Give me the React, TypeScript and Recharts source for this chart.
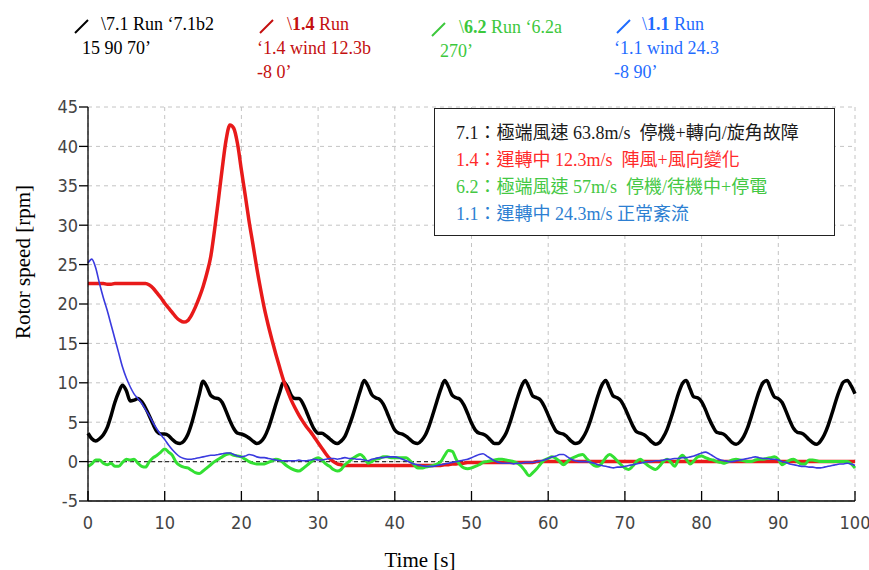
import React from 'react';
import { LineChart, Line, XAxis, YAxis, CartesianGrid, ReferenceLine } from 'recharts';

// time axis, 0 .. 100 s in 0.5 s steps
const timeSec: number[] = Array.from({ length: 201 }, (_, i) => i * 0.5);

// 7.1 (black)
const run71: number[] = [
  3.6, 2.9, 2.6, 2.9, 3.4, 4.3, 5.8, 7.5, 8.8, 9.7,
  9.0, 7.7, 7.8, 8.0, 7.6, 6.8, 5.8, 4.7, 3.8, 3.5,
  3.5, 3.3, 2.8, 2.4, 2.3, 2.6, 3.4, 4.8, 6.6, 8.5,
  10.2, 9.5, 8.4, 8.1, 8.0, 7.5, 6.4, 5.2, 4.2, 3.6,
  3.5, 3.3, 3.0, 2.6, 2.3, 2.5, 3.1, 4.2, 5.7, 7.3,
  8.8, 10.1, 9.5, 8.4, 8.0, 8.0, 7.4, 6.3, 5.1, 4.1,
  3.6, 3.6, 3.3, 2.9, 2.5, 2.3, 2.6, 3.2, 4.4, 5.8,
  7.4, 9.0, 10.3, 9.6, 8.5, 8.1, 7.9, 7.3, 6.2, 5.0,
  4.0, 3.6, 3.5, 3.2, 2.8, 2.4, 2.3, 2.7, 3.4, 4.6,
  6.1, 7.7, 9.2, 10.3, 9.5, 8.4, 8.1, 7.9, 7.2, 6.1,
  4.9, 4.0, 3.6, 3.5, 3.2, 2.7, 2.3, 2.3, 2.8, 3.6,
  4.9, 6.5, 8.1, 9.5, 10.3, 9.4, 8.3, 8.1, 7.8, 7.0,
  5.9, 4.8, 3.9, 3.6, 3.5, 3.1, 2.6, 2.3, 2.4, 3.0,
  3.9, 5.2, 6.8, 8.4, 9.7, 10.3, 9.3, 8.3, 8.1, 7.7,
  6.8, 5.7, 4.6, 3.8, 3.6, 3.4, 3.0, 2.5, 2.2, 2.4,
  3.1, 4.1, 5.5, 7.1, 8.7, 9.9, 10.3, 9.2, 8.2, 8.1,
  7.6, 6.6, 5.4, 4.4, 3.7, 3.6, 3.4, 2.9, 2.4, 2.2,
  2.5, 3.2, 4.3, 5.8, 7.4, 8.9, 10.0, 10.3, 9.2, 8.2,
  8.0, 7.5, 6.4, 5.2, 4.2, 3.7, 3.6, 3.3, 2.8, 2.4,
  2.2, 2.6, 3.4, 4.6, 6.1, 7.7, 9.1, 10.1, 10.3, 9.6,
  8.6,
];

// 1.4 (red)
const run14: number[] = [
  22.6, 22.6, 22.6, 22.6, 22.6, 22.5, 22.5, 22.6, 22.6, 22.6,
  22.6, 22.6, 22.6, 22.6, 22.6, 22.6, 22.4, 22.0, 21.4, 20.8,
  20.1, 19.5, 18.9, 18.3, 17.9, 17.7, 17.9, 18.6, 19.6, 20.8,
  22.2, 23.9, 26.0, 29.4, 33.2, 37.2, 40.8, 42.7, 42.3, 40.3,
  37.0, 33.8, 30.5, 27.6, 24.6, 21.9, 19.4, 17.3, 15.4, 13.6,
  11.9, 10.3, 9.0, 7.8, 6.8, 5.9, 5.1, 4.4, 3.8, 3.1,
  2.4, 1.7, 1.0, 0.4, 0.0, -0.3, -0.4, -0.5, -0.5, -0.5,
  -0.5, -0.5, -0.5, -0.5, -0.5, -0.5, -0.5, -0.5, -0.5, -0.5,
  -0.5, -0.5, -0.5, -0.5, -0.5, -0.5, -0.5, -0.5, -0.5, -0.5,
  -0.5, -0.5, -0.5, -0.4, -0.4, -0.3, -0.3, -0.2, -0.2, -0.1,
  -0.1, -0.1, -0.1, -0.1, -0.1, -0.1, -0.1, -0.1, -0.1, -0.1,
  -0.1, -0.1, -0.1, -0.1, -0.1, -0.1, -0.1, 0.0, 0.0, 0.0,
  0.0, 0.0, 0.0, 0.0, 0.0, 0.0, 0.0, 0.0, 0.0, 0.0,
  0.0, 0.0, 0.0, 0.0, 0.0, 0.0, 0.0, 0.0, 0.0, 0.0,
  0.0, 0.0, 0.0, 0.0, 0.0, 0.0, 0.0, 0.0, 0.0, 0.0,
  0.0, 0.0, 0.0, 0.0, 0.0, 0.0, 0.0, 0.0, 0.0, 0.0,
  0.0, 0.0, 0.0, 0.0, 0.0, 0.0, 0.0, 0.0, 0.0, 0.0,
  0.0, 0.0, 0.0, 0.0, 0.0, 0.0, 0.0, 0.0, 0.0, 0.0,
  0.0, 0.0, 0.0, 0.0, 0.0, 0.0, 0.0, 0.0, 0.0, 0.0,
  0.0, 0.0, 0.0, 0.0, 0.0, 0.0, 0.0, 0.0, 0.0, 0.0,
  0.0,
];

// 6.2 (green)
const run62: number[] = [
  -0.6, -0.3, 0.2, 0.2, -0.2, -0.4, -0.2, -0.6, -0.6, -0.1,
  0.3, 0.2, 0.3, -0.2, -0.6, -0.7, 0.0, 0.5, 0.8, 1.2,
  1.6, 1.2, 0.8, -0.1, -0.5, -0.7, -0.8, -1.1, -1.4, -1.5,
  -1.2, -0.8, -0.4, 0.0, 0.3, 0.6, 0.9, 1.0, 0.8, 0.7,
  0.6, 0.3, 0.0, -0.2, -0.3, -0.3, -0.3, -0.1, 0.1, 0.3,
  0.2, -0.2, -0.6, -0.9, -1.1, -1.2, -0.9, -0.5, -0.1, 0.3,
  0.5, 0.2, -0.3, -0.6, -1.0, -1.2, -1.0, -0.4, 0.0, 0.4,
  0.7, 0.9, 0.5, -0.2, 0.0, 0.3, 0.4, 0.6, 0.6, 0.5,
  0.5, 0.5, 0.5, 0.5, 0.1, -0.4, -0.8, -0.8, -0.7, -0.6,
  -0.5, -0.3, 0.0, 0.8, 1.4, 1.3, 0.3, -0.4, -0.8, -0.9,
  -0.8, -0.6, -0.4, -0.1, 0.0, 0.1, 0.2, 0.3, 0.3, 0.2,
  0.1, 0.0, -0.2, -0.6, -1.2, -1.8, -1.4, -0.9, -0.3, 0.2,
  0.4, 0.6, 0.4, 0.0, -0.4, 0.0, 0.4, 0.6, 0.8, 0.9,
  0.4, -0.1, -0.5, -0.6, -0.2, 0.5, 0.9, 0.6, 0.1, -0.4,
  -0.8, -1.0, -0.6, 0.0, 0.3, -0.1, -0.5, -0.8, -1.0, -0.6,
  0.0, 0.3, -0.1, -0.6, 0.3, 0.8, 0.3, -0.3, 0.1, 0.6,
  0.7, 0.5, 0.3, 0.2, 0.0, -0.1, -0.2, 0.0, 0.2, 0.3,
  0.2, 0.1, 0.0, 0.0, 0.2, 0.3, 0.3, 0.4, 0.5, 0.6,
  0.3, -0.4, -0.1, 0.2, 0.3, 0.0, -0.3, -0.3, 0.2, 0.2,
  0.1, 0.0, 0.0, 0.0, 0.0, 0.0, 0.0, 0.0, 0.0, -0.3,
  -0.8,
];

// 1.1 (blue)
const run11: number[] = [
  25.2, 25.7, 24.6, 22.6, 20.8, 19.2, 17.4, 15.6, 13.8, 12.0,
  10.6, 9.5, 8.6, 8.0, 7.4, 6.6, 5.8, 4.9, 4.1, 3.4,
  2.8, 2.1, 1.5, 1.0, 0.6, 0.4, 0.3, 0.3, 0.4, 0.5,
  0.6, 0.7, 0.8, 0.8, 0.9, 1.0, 1.1, 1.1, 0.9, 0.7,
  0.6, 0.7, 0.9, 0.8, 0.6, 0.5, 0.5, 0.4, 0.3, 0.2,
  0.1, 0.1, 0.1, 0.1, 0.1, 0.2, 0.1, 0.1, 0.2, 0.3,
  0.2, 0.2, 0.3, 0.4, 0.4, 0.3, 0.4, 0.5, 0.4, 0.4,
  0.3, 0.3, 0.2, 0.1, 0.3, 0.4, 0.5, 0.5, 0.6, 0.6,
  0.6, 0.5, 0.3, 0.1, -0.1, -0.3, -0.4, -0.5, -0.6, -0.6,
  -0.6, -0.5, -0.4, -0.3, -0.2, -0.1, 0.0, 0.1, 0.2, 0.3,
  0.5, 0.7, 0.9, 1.0, 0.7, 0.4, 0.1, -0.1, -0.2, -0.2,
  -0.2, -0.3, -0.2, -0.2, -0.1, -0.1, -0.1, 0.0, 0.1, 0.2,
  0.4, 0.6, 0.7, 0.9, 0.9, 0.6, 0.3, 0.1, 0.0, 0.0,
  0.0, -0.1, -0.2, -0.4, -0.5, -0.6, -0.7, -0.8, -0.7, -0.7,
  -0.6, -0.5, -0.4, -0.3, -0.2, -0.1, 0.0, 0.0, 0.1, 0.1,
  0.2, 0.3, 0.3, 0.4, 0.4, 0.5, 0.5, 0.6, 0.7, 0.9,
  1.1, 1.2, 1.0, 0.7, 0.4, 0.2, 0.1, 0.0, 0.0, 0.1,
  0.2, 0.3, 0.4, 0.5, 0.6, 0.5, 0.4, 0.4, 0.3, 0.3,
  0.2, 0.0, -0.1, -0.3, -0.4, -0.5, -0.6, -0.6, -0.7, -0.7,
  -0.8, -0.8, -0.7, -0.6, -0.5, -0.4, -0.3, -0.3, -0.2, -0.3,
  -0.5,
];

const xTicks: number[] = [0, 10, 20, 30, 40, 50, 60, 70, 80, 90, 100];
const yTicks: number[] = [-5, 0, 5, 10, 15, 20, 25, 30, 35, 40, 45];

const seriesColors = { r71: '#000000', r14: '#e81a1a', r62: '#33e033', r11: '#3a3adf' };

// top legend text
const legendColors: string[] = ['#000000', '#c40f0f', '#3cc83c', '#1f6cff'];
const legendBold: string[] = ['', '1.4', '6.2', '1.1'];
const legendHeadRest: string[] = ['7.1 Run \u20187.1b2', ' Run', ' Run \u20186.2a', ' Run'];
const legendTail: string[][] = [
  ['15 90 70\u2019'],
  ['\u20181.4 wind 12.3b', '-8 0\u2019'],
  ['270\u2019'],
  ['\u20181.1 wind 24.3', '-8 90\u2019'],
];

// annotation box
const noteLines: string[] = [
  '7.1：極端風速 63.8m/s  停機+轉向/旋角故障',
  '1.4：運轉中 12.3m/s  陣風+風向變化',
  '6.2：極端風速 57m/s  停機/待機中+停電',
  '1.1：運轉中 24.3m/s 正常紊流',
];
const noteColors: string[] = ['#1a1a1a', '#ff2a2a', '#44c844', '#2d7fd2'];

const serif = '"Liberation Serif", "Times New Roman", "Noto Sans CJK TC", serif';
const tickFont = '"DejaVu Sans Condensed", "DejaVu Sans", sans-serif';

const legendIconX = [74, 259, 431, 616];
const legendHeadX = [101, 287, 459, 642];
const legendTailX = [82, 257, 440, 614];
const legendDy = [0, 0, 3, 0];

export default function App() {
  const data = timeSec.map((t, i) => ({
    t,
    r71: run71[i],
    r14: run14[i],
    r62: run62[i],
    r11: run11[i],
  }));

  return (
    <div style={{ position: 'absolute', left: 0, top: 0, width: 869, height: 570, background: '#fff', overflow: 'hidden' }}>
      <LineChart width={869} height={570} data={data} margin={{ top: 107, right: 14, bottom: 39, left: 28 }}>
        <CartesianGrid stroke="#c4c4c4" strokeDasharray="4 4" />
        <XAxis
          dataKey="t"
          type="number"
          domain={[0, 100]}
          ticks={xTicks}
          interval={0}
          height={30}
          tickSize={-10}
          tickMargin={25}
          stroke="#000"
          strokeWidth={1.3}
          tick={{ fill: '#444', fontSize: 18, fontFamily: tickFont }}
        />
        <YAxis
          type="number"
          domain={[-5, 45]}
          ticks={yTicks}
          interval={0}
          width={60}
          tickSize={9}
          tickMargin={1}
          stroke="#000"
          strokeWidth={1.3}
          tick={{ fill: '#444', fontSize: 18, fontFamily: tickFont }}
        />
        <ReferenceLine y={0} stroke="#333" strokeDasharray="4 3" strokeWidth={1.2} />
        <Line type="monotone" dataKey="r71" stroke={seriesColors.r71} strokeWidth={3.5} dot={false} isAnimationActive={false} />
        <Line type="monotone" dataKey="r14" stroke={seriesColors.r14} strokeWidth={3.5} dot={false} isAnimationActive={false} />
        <Line type="monotone" dataKey="r62" stroke={seriesColors.r62} strokeWidth={3} dot={false} isAnimationActive={false} />
        <Line type="monotone" dataKey="r11" stroke={seriesColors.r11} strokeWidth={1.6} dot={false} isAnimationActive={false} />
      </LineChart>

      {/* top legend */}
      {legendColors.map((c, i) => (
        <React.Fragment key={i}>
          <svg style={{ position: 'absolute', left: legendIconX[i], top: 19 + legendDy[i] }} width={16} height={15}>
            <line x1={1} y1={14} x2={14} y2={1} stroke={c} strokeWidth={2} />
          </svg>
          <div style={{ position: 'absolute', left: legendHeadX[i], top: 13 + legendDy[i], fontFamily: serif, fontSize: 18, lineHeight: '23px', color: c, whiteSpace: 'pre' }}>
            {'\\'}
            {legendBold[i] ? <b>{legendBold[i]}</b> : null}
            {legendHeadRest[i]}
          </div>
          {legendTail[i].map((s, j) => (
            <div key={j} style={{ position: 'absolute', left: legendTailX[i], top: 37 + j * 23.5 + legendDy[i], fontFamily: serif, fontSize: 18, lineHeight: '23px', color: c, whiteSpace: 'pre' }}>
              {s}
            </div>
          ))}
        </React.Fragment>
      ))}

      {/* annotation box */}
      <div style={{ position: 'absolute', left: 434, top: 108, width: 399, height: 126, border: '1.5px solid #222', background: '#fff', boxSizing: 'content-box' }}>
        {noteLines.map((s, i) => (
          <div key={i} style={{ position: 'absolute', left: 21, top: 11 + i * 27, fontFamily: serif, fontSize: 18, lineHeight: '27px', color: noteColors[i], whiteSpace: 'pre' }}>
            {s}
          </div>
        ))}
      </div>

      {/* axis titles */}
      <div style={{ position: 'absolute', left: 23, top: 262, transform: 'translate(-50%, -50%) rotate(-90deg)', fontFamily: serif, fontSize: 21, whiteSpace: 'pre', color: '#000' }}>
        Rotor speed [rpm]
      </div>
      <div style={{ position: 'absolute', left: 420, top: 560, transform: 'translate(-50%, -50%)', fontFamily: serif, fontSize: 21, whiteSpace: 'pre', color: '#000' }}>
        Time [s]
      </div>
    </div>
  );
}
